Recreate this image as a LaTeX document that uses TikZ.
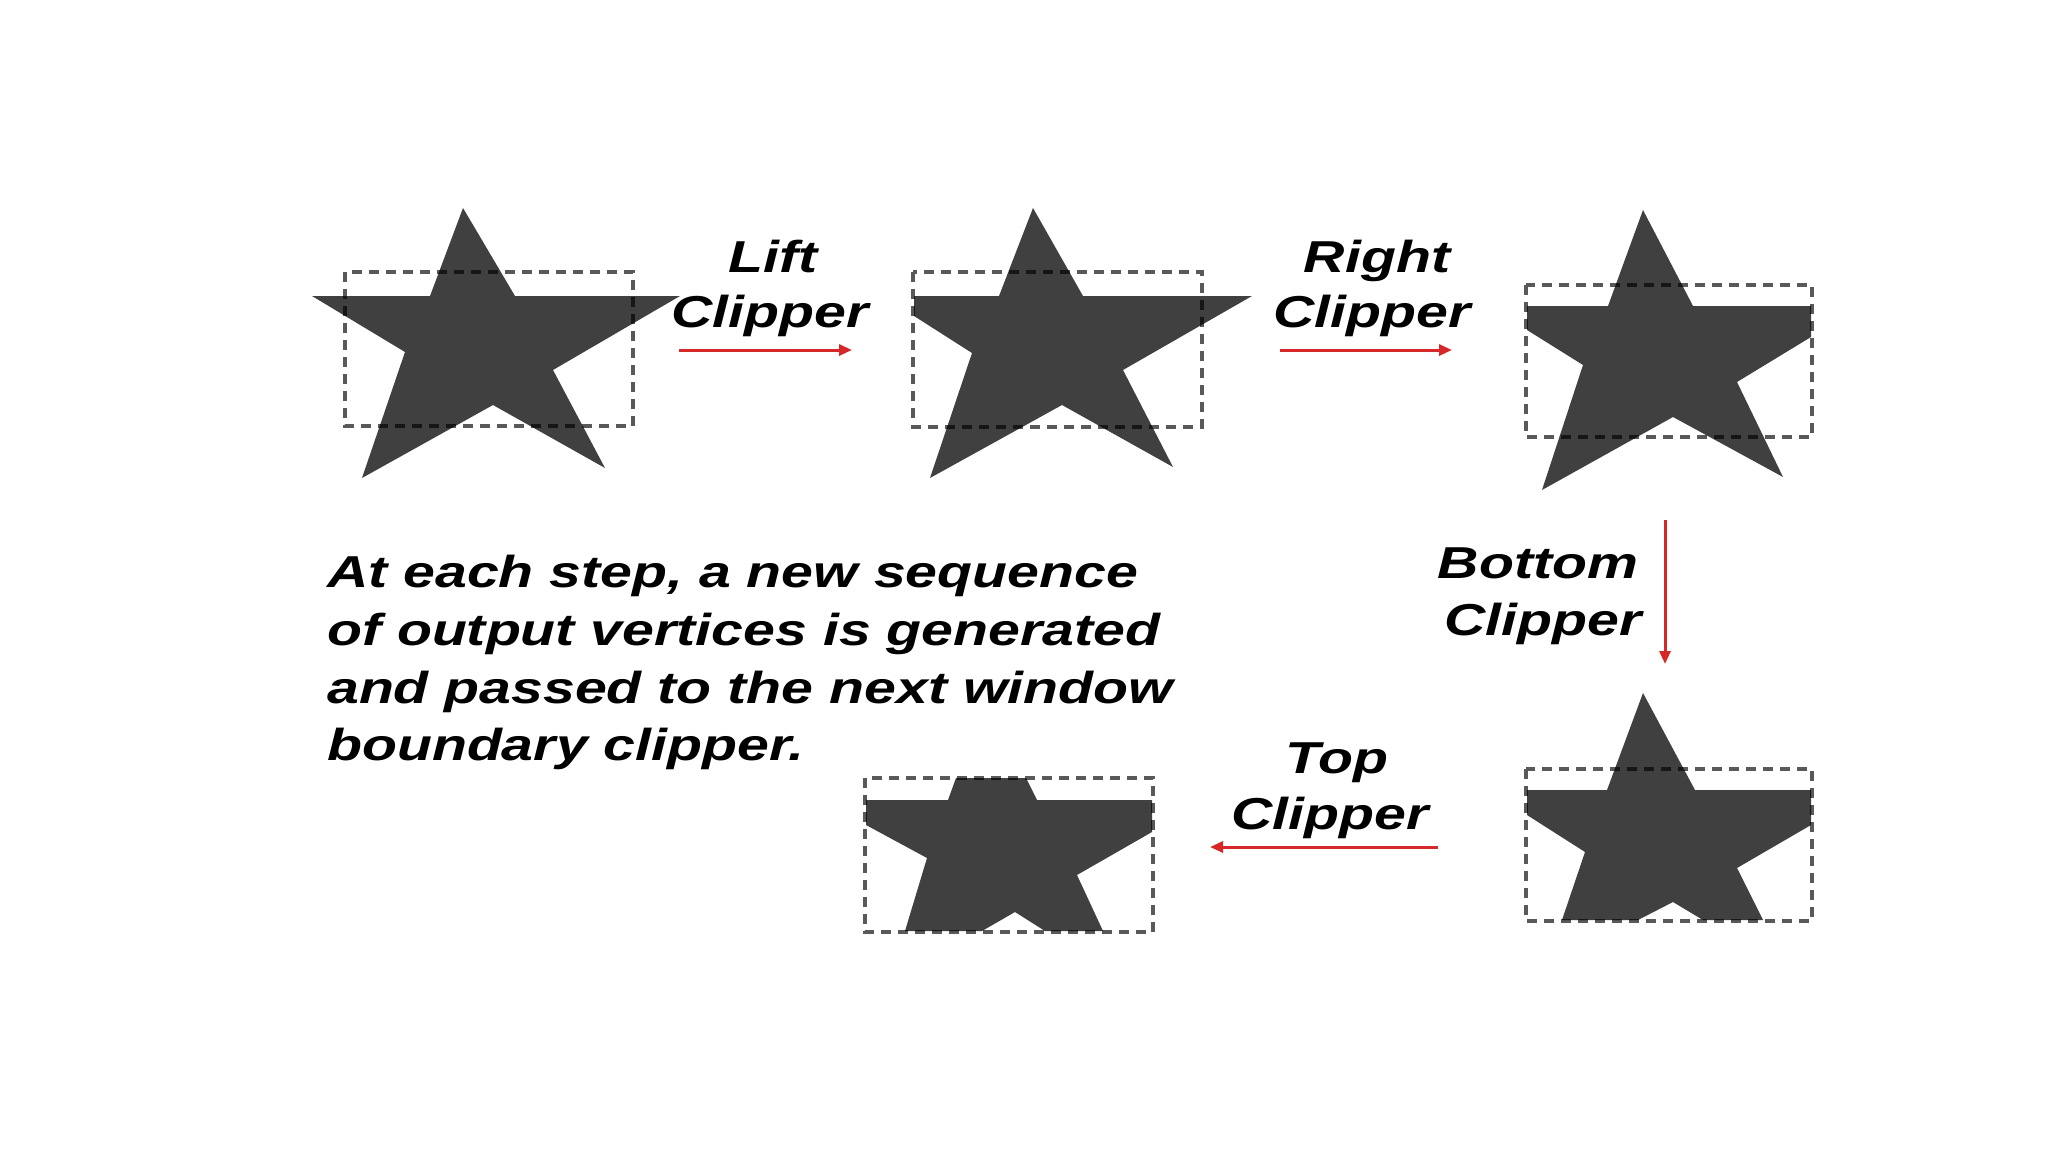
\documentclass[tikz,border=0pt]{standalone}
\usepackage{fontspec}
\setmainfont{Liberation Sans}[FakeStretch=1.28]
\usetikzlibrary{arrows.meta}
\definecolor{starfill}{RGB}{64,64,64}
\definecolor{arrowred}{RGB}{214,40,40}
\begin{document}
\begin{tikzpicture}[x=1pt,y=-1pt,
  starshape/.style={fill=starfill, draw=none},
  window/.style={draw=black, draw opacity=0.65, line width=3.6pt, dash pattern=on 10pt off 7pt},
  flow/.style={draw=arrowred, line width=3pt, -{Triangle[length=13pt,width=11pt]}},
  lab/.style={font=\fontsize{44.7}{55}\selectfont\bfseries\itshape, anchor=base, inner sep=0pt},
  para/.style={font=\fontsize{44.7}{57.7}\selectfont\bfseries\itshape, anchor=base west, inner sep=0pt}]
\fill[white] (0,0) rectangle (2048,1152);
\useasboundingbox (0,0) rectangle (2048,1152);

% Star 1 (unclipped)
\fill[starshape] (463,208) -- (515,296) -- (680,296) -- (553,370) -- (605,468) -- (493,405)
  -- (362,478) -- (405,352) -- (312,296) -- (430,296) -- cycle;
\draw[window] (345,272) rectangle (633,426);

% Star 2 (left clipped)
\fill[starshape] (1033,208) -- (1083,296) -- (1252,296) -- (1123,370) -- (1173,467) -- (1062,405)
  -- (930,478) -- (972,353) -- (914,316) -- (914,296) -- (999,296) -- cycle;
\draw[window] (913,272) rectangle (1202,427);

% Star 3 (left + right clipped)
\fill[starshape] (1643,210) -- (1693,306) -- (1811,306) -- (1811,337) -- (1737,382) -- (1783,477)
  -- (1673,417) -- (1542,490) -- (1583,365) -- (1527,330) -- (1527,306) -- (1608,306) -- cycle;
\draw[window] (1526,285) rectangle (1812,437);

% Star 4 (left + right + bottom clipped)
\fill[starshape] (1643,693) -- (1695,790) -- (1811,790) -- (1811,825) -- (1737,868) -- (1763,920)
  -- (1703,920) -- (1673,902) -- (1638,920) -- (1562,920) -- (1585,852) -- (1527,815)
  -- (1527,790) -- (1607,790) -- cycle;
\draw[window] (1526,769) rectangle (1812,921);

% Star 5 (all clipped)
\fill[starshape] (956,778) -- (1026,778) -- (1037,800) -- (1152,800) -- (1152,832) -- (1077,875)
  -- (1103,931) -- (1045,931) -- (1015,912) -- (982,931) -- (905,931) -- (927,858)
  -- (866,825) -- (866,800) -- (948,800) -- cycle;
\draw[window] (865,778) rectangle (1153,932);

% Arrows
\coordinate (a1s) at (679,350);  \coordinate (a1e) at (852,350);
\coordinate (a2s) at (1280,350); \coordinate (a2e) at (1452,350);
\coordinate (a3s) at (1665,520); \coordinate (a3e) at (1665,664);
\coordinate (a4s) at (1438,847); \coordinate (a4e) at (1210,847);
\draw[flow] (a1s) -- (a1e);
\draw[flow] (a2s) -- (a2e);
\draw[flow] (a3s) -- (a3e);
\draw[flow] (a4s) -- (a4e);

% Labels
\node[lab] (liftA) at (773,272) {Lift};
\node[lab] (liftB) at (770,327) {Clipper};
\node[lab] (rightA) at (1377,272) {Right};
\node[lab] (rightB) at (1372,327) {Clipper};
\node[lab] (bottomA) at (1538,578) {Bottom};
\node[lab] (bottomB) at (1543,635) {Clipper};
\node[lab] (topA) at (1337,773) {Top};
\node[lab] (topB) at (1330,829) {Clipper};

% Paragraph
\node[para] (p1) at (327,587) {At each step, a new sequence};
\node[para] (p2) at (327,645) {of output vertices is generated};
\node[para] (p3) at (327,703) {and passed to the next window};
\node[para] (p4) at (327,760) {boundary clipper.};
\end{tikzpicture}
\end{document}
